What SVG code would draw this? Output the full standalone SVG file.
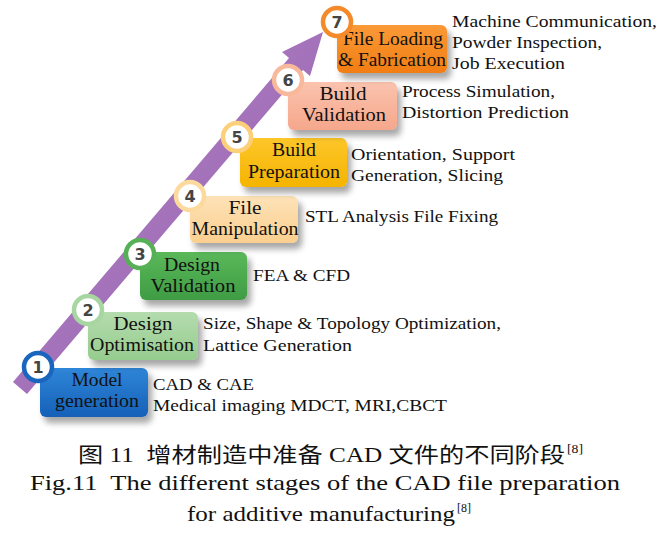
<svg xmlns="http://www.w3.org/2000/svg" width="667" height="533" viewBox="0 0 667 533">
<defs>
<filter id="sh" x="-10%" y="-10%" width="130%" height="150%">
<feGaussianBlur in="SourceAlpha" stdDeviation="3"/>
<feOffset dx="4" dy="6"/>
<feComponentTransfer><feFuncA type="linear" slope="0.35"/></feComponentTransfer>
<feMerge><feMergeNode/><feMergeNode in="SourceGraphic"/></feMerge>
</filter>
<linearGradient id="band" x1="0" y1="0" x2="1" y2="1">
<stop offset="0" stop-color="#b98bcc"/>
<stop offset="1" stop-color="#8e5aa8"/>
</linearGradient>
<linearGradient id="g1" x1="0" y1="0" x2="0" y2="1"><stop offset="0" stop-color="#2f86d8"/><stop offset="1" stop-color="#1560b8"/></linearGradient>
<linearGradient id="g2" x1="0" y1="0" x2="0" y2="1"><stop offset="0" stop-color="#b4dcae"/><stop offset="1" stop-color="#96cc8e"/></linearGradient>
<linearGradient id="g3" x1="0" y1="0" x2="0" y2="1"><stop offset="0" stop-color="#5ab85a"/><stop offset="1" stop-color="#3f9c43"/></linearGradient>
<linearGradient id="g4" x1="0" y1="0" x2="0" y2="1"><stop offset="0" stop-color="#fde2b8"/><stop offset="1" stop-color="#fbcf8e"/></linearGradient>
<linearGradient id="g5" x1="0" y1="0" x2="0" y2="1"><stop offset="0" stop-color="#fdc62a"/><stop offset="1" stop-color="#f5b400"/></linearGradient>
<linearGradient id="g6" x1="0" y1="0" x2="0" y2="1"><stop offset="0" stop-color="#fbc3ae"/><stop offset="1" stop-color="#f5a78b"/></linearGradient>
<linearGradient id="g7" x1="0" y1="0" x2="0" y2="1"><stop offset="0" stop-color="#fa9a38"/><stop offset="1" stop-color="#f27d12"/></linearGradient>
</defs>
<style>
text{font-family:"Liberation Serif","Tinos","Times New Roman",Times,serif}
.bt{font-size:18px;fill:#111;text-anchor:middle}
.dt{font-size:17.5px;fill:#111}
.num{font-family:"DejaVu Sans","Liberation Sans",sans-serif;font-size:16px;font-weight:bold;fill:#444;text-anchor:middle}
.cap{font-family:"Liberation Serif","Times New Roman","Noto Sans CJK SC",serif;font-size:21px;fill:#111}
.sup{font-size:12px}
.box{filter:url(#sh)}
.ring{fill:#fff;stroke-width:4.5}
</style>
<g id="connectors">
<polygon points="13,382 27,394 303,70 310,76 323,32 282,52 289,58" fill="url(#band)"/>
</g>
<g id="n1">
<rect class="box" x="40" y="368" width="108" height="49" rx="6" fill="url(#g1)"/>
<text class="bt" x="97" y="386" textLength="51" lengthAdjust="spacingAndGlyphs">Model</text>
<text class="bt" x="97" y="407" textLength="84" lengthAdjust="spacingAndGlyphs">generation</text>
<circle class="ring" cx="38" cy="367" r="14" stroke="#1a66bf"/>
<text class="num" x="38" y="373">1</text>
<text class="dt" x="153" y="390" textLength="101" lengthAdjust="spacingAndGlyphs">CAD &amp; CAE</text>
<text class="dt" x="153" y="411" textLength="294" lengthAdjust="spacingAndGlyphs">Medical imaging MDCT, MRI,CBCT</text>
</g>
<g id="n2">
<rect class="box" x="88" y="312" width="110" height="48" rx="6" fill="url(#g2)"/>
<text class="bt" x="143" y="330" textLength="59" lengthAdjust="spacingAndGlyphs">Design</text>
<text class="bt" x="142" y="351" textLength="104" lengthAdjust="spacingAndGlyphs">Optimisation</text>
<circle class="ring" cx="88" cy="310" r="14" stroke="#a7d6a0"/>
<text class="num" x="88" y="316">2</text>
<text class="dt" x="203" y="329" textLength="298" lengthAdjust="spacingAndGlyphs">Size, Shape &amp; Topology Optimization,</text>
<text class="dt" x="203" y="351" textLength="149" lengthAdjust="spacingAndGlyphs">Lattice Generation</text>
</g>
<g id="n3">
<rect class="box" x="140" y="252" width="107" height="48" rx="6" fill="url(#g3)"/>
<text class="bt" x="192" y="271" textLength="56" lengthAdjust="spacingAndGlyphs">Design</text>
<text class="bt" x="193" y="292" textLength="85" lengthAdjust="spacingAndGlyphs">Validation</text>
<circle class="ring" cx="140" cy="254" r="14" stroke="#56b056"/>
<text class="num" x="140" y="260">3</text>
<text class="dt" x="253" y="281" textLength="97" lengthAdjust="spacingAndGlyphs">FEA &amp; CFD</text>
</g>
<g id="n4">
<rect class="box" x="190" y="196" width="108" height="47" rx="6" fill="url(#g4)"/>
<text class="bt" x="245" y="214" textLength="33" lengthAdjust="spacingAndGlyphs">File</text>
<text class="bt" x="245" y="235" textLength="107" lengthAdjust="spacingAndGlyphs">Manipulation</text>
<circle class="ring" cx="190" cy="196" r="14" stroke="#fcd99c"/>
<text class="num" x="190" y="202">4</text>
<text class="dt" x="305" y="222" textLength="193" lengthAdjust="spacingAndGlyphs">STL Analysis File Fixing</text>
</g>
<g id="n5">
<rect class="box" x="240" y="138" width="107" height="49" rx="6" fill="url(#g5)"/>
<text class="bt" x="294" y="156" textLength="44" lengthAdjust="spacingAndGlyphs">Build</text>
<text class="bt" x="294" y="178" textLength="92" lengthAdjust="spacingAndGlyphs">Preparation</text>
<circle class="ring" cx="237" cy="137" r="14" stroke="#fcd07a"/>
<text class="num" x="237" y="143">5</text>
<text class="dt" x="351" y="160" textLength="164" lengthAdjust="spacingAndGlyphs">Orientation, Support</text>
<text class="dt" x="351" y="181" textLength="152" lengthAdjust="spacingAndGlyphs">Generation, Slicing</text>
</g>
<g id="n6">
<rect class="box" x="288" y="82" width="109" height="48" rx="6" fill="url(#g6)"/>
<text class="bt" x="343" y="100" textLength="47" lengthAdjust="spacingAndGlyphs">Build</text>
<text class="bt" x="344" y="121" textLength="84" lengthAdjust="spacingAndGlyphs">Validation</text>
<circle class="ring" cx="288" cy="80" r="14" stroke="#f7b89c"/>
<text class="num" x="288" y="86">6</text>
<text class="dt" x="402" y="97" textLength="153" lengthAdjust="spacingAndGlyphs">Process Simulation,</text>
<text class="dt" x="402" y="118" textLength="167" lengthAdjust="spacingAndGlyphs">Distortion Prediction</text>
</g>
<g id="n7">
<rect class="box" x="337" y="25" width="110" height="48" rx="6" fill="url(#g7)"/>
<text class="bt" x="393" y="45" textLength="100" lengthAdjust="spacingAndGlyphs">File Loading</text>
<text class="bt" x="392" y="66" textLength="108" lengthAdjust="spacingAndGlyphs">&amp; Fabrication</text>
<circle class="ring" cx="337" cy="22" r="14" stroke="#f58a2a"/>
<text class="num" x="337" y="28">7</text>
<text class="dt" x="452" y="27" textLength="205" lengthAdjust="spacingAndGlyphs">Machine Communication,</text>
<text class="dt" x="452" y="48" textLength="150" lengthAdjust="spacingAndGlyphs">Powder Inspection,</text>
<text class="dt" x="452" y="69" textLength="113" lengthAdjust="spacingAndGlyphs">Job Execution</text>
</g>
<g id="caption">
<text class="cap" x="78" y="462" textLength="487" lengthAdjust="spacingAndGlyphs" xml:space="preserve">图 11  增材制造中准备 CAD 文件的不同阶段</text>
<text class="cap sup" x="567" y="453" textLength="16" lengthAdjust="spacingAndGlyphs">[8]</text>
<text class="cap" x="30" y="490" textLength="590" lengthAdjust="spacingAndGlyphs" xml:space="preserve">Fig.11  The different stages of the CAD file preparation</text>
<text class="cap" x="187" y="521" textLength="268" lengthAdjust="spacingAndGlyphs">for additive manufacturing</text>
<text class="cap sup" x="457" y="512" textLength="14" lengthAdjust="spacingAndGlyphs">[8]</text>
</g>
</svg>
